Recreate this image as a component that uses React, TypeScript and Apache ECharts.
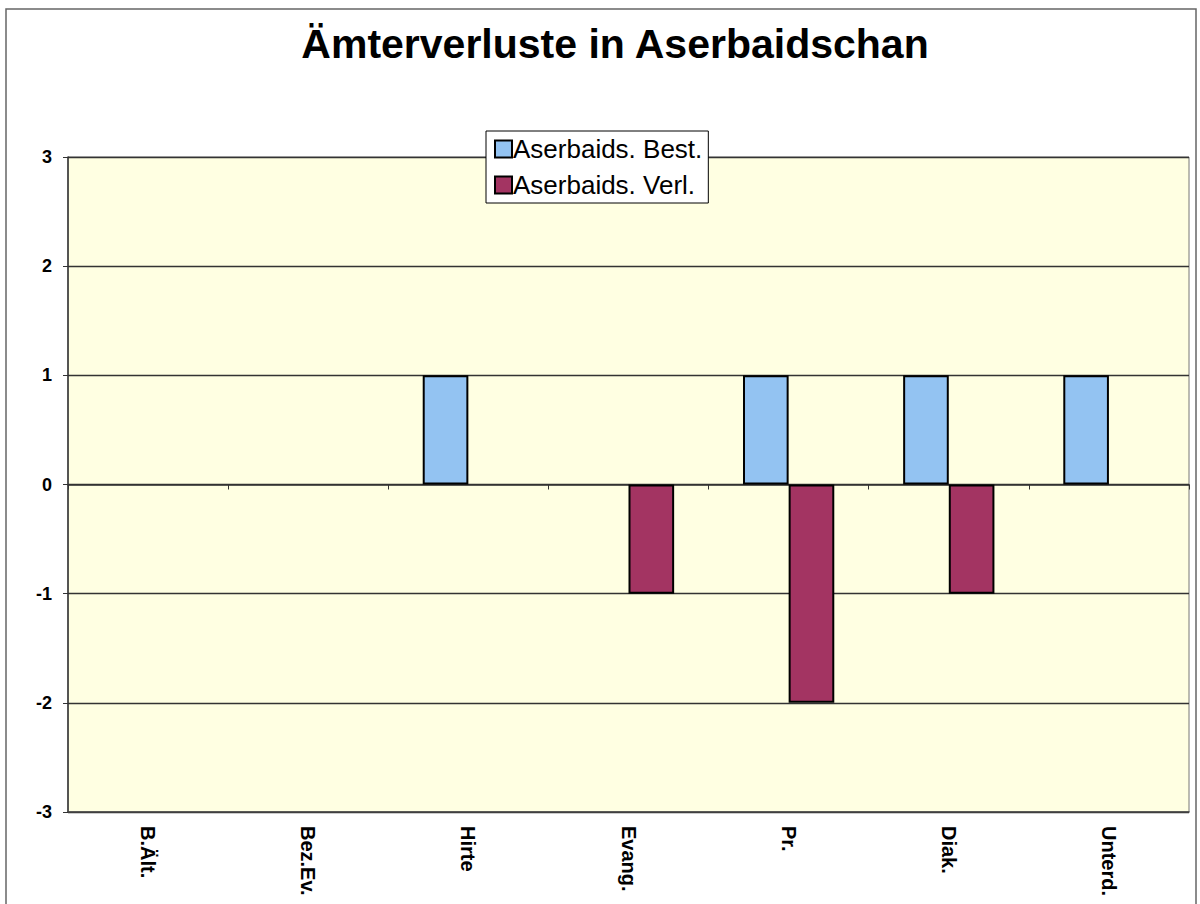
import React, { useEffect, useRef } from "react";
import * as echarts from "echarts";

const categories = ["B.Ält.", "Bez.Ev.", "Hirte", "Evang.", "Pr.", "Diak.", "Unterd."];
const bestValues = [0, 0, 1, 0, 1, 1, 1];
const verlValues = [0, 0, 0, -1, -2, -1, 0];
const seriesNames = ["Aserbaids. Best.", "Aserbaids. Verl."];
const titleText = "Ämterverluste in Aserbaidschan";

const toItems = (vals: number[]) =>
  vals.map((v) => (v === 0 ? { value: v, itemStyle: { borderWidth: 0 } } : { value: v }));

export default function App() {
  const ref = useRef<HTMLDivElement>(null);
  useEffect(() => {
    if (!ref.current) return;
    const chart = echarts.init(ref.current, undefined, { renderer: "svg" });
    const font = "Arial, 'Liberation Sans', sans-serif";
    chart.setOption({
      animation: false,
      backgroundColor: "#ffffff",
      title: {
        text: titleText,
        left: 610,
        textAlign: "center",
        top: 18,
        textStyle: { fontFamily: font, fontWeight: "bold", fontSize: 41, color: "#000" },
      },
      legend: {
        orient: "vertical",
        left: 486,
        top: 131,
        itemWidth: 17,
        itemHeight: 17,
        itemGap: 10,
        padding: [5, 6, 5, 8],
        backgroundColor: "#ffffff",
        borderColor: "#000",
        borderWidth: 1,
        borderRadius: 0,
        icon: "rect",
        textStyle: { fontFamily: font, fontSize: 26, color: "#000", padding: [0, 0, 0, -4] },
        data: seriesNames,
        z: 10,
      },
      grid: {
        left: 68,
        right: 11,
        top: 157,
        bottom: 92,
        show: true,
        backgroundColor: "#FFFFE2",
        borderColor: "#777",
        borderWidth: 1,
      },
      xAxis: [
        {
          type: "category",
          data: categories,
          position: "bottom",
          axisLine: { onZero: false, show: true, lineStyle: { color: "#444", width: 1.5 } },
          axisTick: { show: false },
          axisLabel: {
            rotate: -90,
            fontFamily: font,
            fontWeight: "bold",
            fontSize: 20,
            color: "#000",
            margin: 14,
            interval: 0,
          },
        },
        {
          type: "category",
          data: categories,
          position: "bottom",
          axisLine: { onZero: true, show: true, lineStyle: { color: "#333", width: 1.5 } },
          axisTick: { show: true, length: 5, inside: false, lineStyle: { color: "#333" } },
          axisLabel: { show: false },
        },
      ],
      yAxis: {
        type: "value",
        min: -3,
        max: 3,
        interval: 1,
        axisLine: { show: true, lineStyle: { color: "#333", width: 1.5 } },
        axisTick: { show: true, length: 5, lineStyle: { color: "#333" } },
        axisLabel: {
          fontFamily: font,
          fontWeight: "bold",
          fontSize: 18,
          color: "#000",
          margin: 16,
        },
        splitLine: { show: true, lineStyle: { color: "#333", width: 1.4 } },
      },
      series: [
        {
          name: seriesNames[0],
          type: "bar",
          data: toItems(bestValues),
          barGap: "0%",
          barCategoryGap: "43%",
          itemStyle: { color: "#93C3F2", borderColor: "#000", borderWidth: 2 },
        },
        {
          name: seriesNames[1],
          type: "bar",
          data: toItems(verlValues),
          barGap: "0%",
          barCategoryGap: "43%",
          itemStyle: { color: "#A33462", borderColor: "#000", borderWidth: 2 },
        },
      ],
      graphic: [
        {
          type: "rect",
          shape: { x: 6, y: 9, width: 1190, height: 900 },
          style: { fill: "none", stroke: "#666", lineWidth: 1.5 },
          silent: true,
        },
      ],
    });
    return () => chart.dispose();
  }, []);
  return (
    <div
      ref={ref}
      style={{ position: "fixed", left: 0, top: 0, width: 1200, height: 904 }}
    />
  );
}
